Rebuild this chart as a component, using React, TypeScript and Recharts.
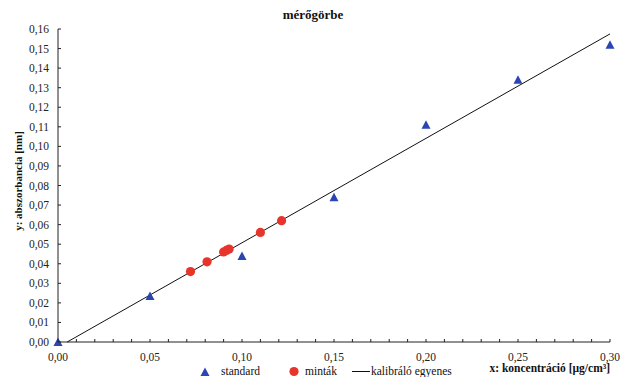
import React from 'react';
import { ScatterChart, Scatter, XAxis, YAxis, Customized } from 'recharts';

const standardX = [0, 0.05, 0.1, 0.15, 0.2, 0.25, 0.3];
const standardY = [0, 0.0235, 0.044, 0.074, 0.111, 0.134, 0.152];
const sampleX = [0.072, 0.081, 0.09, 0.0915, 0.093, 0.11, 0.1215];
const sampleY = [0.036, 0.041, 0.046, 0.0468, 0.0475, 0.056, 0.062];
const lineX = [0.005, 0.3];
const lineY = [0, 0.1575];
const xTicks = [0, 0.01, 0.02, 0.03, 0.04, 0.05, 0.06, 0.07, 0.08, 0.09, 0.1, 0.11, 0.12, 0.13, 0.14, 0.15, 0.16, 0.17, 0.18, 0.19, 0.2, 0.21, 0.22, 0.23, 0.24, 0.25, 0.26, 0.27, 0.28, 0.29, 0.3];
const yTicks = [0, 0.01, 0.02, 0.03, 0.04, 0.05, 0.06, 0.07, 0.08, 0.09, 0.1, 0.11, 0.12, 0.13, 0.14, 0.15, 0.16];
const titleText = 'mérőgörbe';
const xLabel = 'x: koncentráció [µg/cm³]';
const yLabel = 'y: abszorbancia [nm]';
const legendLabels = ['standard', 'minták', 'kalibráló egyenes'];

const standardData = standardX.map((x, i) => ({ x, y: standardY[i] }));
const sampleData = sampleX.map((x, i) => ({ x, y: sampleY[i] }));
const lineData = lineX.map((x, i) => ({ x, y: lineY[i] }));

const FONT = "'Liberation Serif', 'Times New Roman', serif";
const ff = { fontFamily: FONT };
const BLUE = '#2B45B2';
const RED = '#E8352B';
const fmt = (v: number) => v.toFixed(2).replace('.', ',');

const XTick = (props: any) => {
  const { x, y, payload } = props;
  const v = payload.value;
  const major = Math.round(v * 100) % 5 === 0;
  return (
    <g>
      <line x1={x} x2={x} y1={y} y2={y - 3} stroke="#222" strokeWidth={1} />
      {major && (
        <text x={x} y={y + 19} textAnchor="middle" style={ff} fontSize={11.5} fill="#222">
          {fmt(v)}
        </text>
      )}
    </g>
  );
};

const YTick = (props: any) => {
  const { x, y, payload } = props;
  return (
    <g>
      <line x1={x} x2={x + 3} y1={y} y2={y} stroke="#222" strokeWidth={1} />
      <text x={x - 9} y={y + 4} textAnchor="end" style={ff} fontSize={11.5} fill="#222">
        {fmt(payload.value)}
      </text>
    </g>
  );
};

const Triangle = (props: any) => {
  const { cx, cy } = props;
  return <polygon points={`${cx - 4.5},${cy + 4} ${cx + 4.5},${cy + 4} ${cx},${cy - 4.5}`} fill={BLUE} />;
};

const Dot = (props: any) => {
  const { cx, cy } = props;
  return <circle cx={cx} cy={cy} r={4.6} fill={RED} />;
};

const NoShape = () => <g />;

const Decorations = () => (
  <g style={ff} fill="#111">
    <text x={313} y={19} textAnchor="middle" fontWeight="bold" fontSize={13} style={ff}>{titleText}</text>
    <text x={0} y={0} transform="translate(22,181) rotate(-90)" textAnchor="middle" fontWeight="bold" fontSize={11} style={ff}>{yLabel}</text>
    <text x={610} y={372} textAnchor="end" fontWeight="bold" fontSize={11.5} style={ff}>{xLabel}</text>
    <polygon points="200.5,376 209.5,376 205,367.5" fill={BLUE} />
    <text x={221} y={375} fontSize={11.5} style={ff}>{legendLabels[0]}</text>
    <circle cx={294} cy={371.5} r={4.6} fill={RED} />
    <text x={305} y={375} fontSize={11.5} style={ff}>{legendLabels[1]}</text>
    <line x1={352} x2={370} y1={371.5} y2={371.5} stroke="#111" strokeWidth={1} />
    <text x={371} y={375} fontSize={11.5} style={ff}>{legendLabels[2]}</text>
  </g>
);

export default function App() {
  return (
    <div style={{ position: 'absolute', left: 0, top: 0, background: '#fff' }}>
      <ScatterChart width={621} height={377} margin={{ top: 29, right: 11, bottom: 15, left: 0 }}>
        <XAxis
          type="number"
          dataKey="x"
          domain={[0, 0.3]}
          ticks={xTicks}
          interval={0}
          tickSize={0}
          tickMargin={0}
          tick={<XTick />}
          tickLine={false}
          axisLine={{ stroke: '#222', strokeWidth: 1 }}
          height={20}
        />
        <YAxis
          type="number"
          dataKey="y"
          domain={[0, 0.16]}
          ticks={yTicks}
          interval={0}
          tickSize={0}
          tickMargin={0}
          tick={<YTick />}
          tickLine={false}
          axisLine={{ stroke: '#222', strokeWidth: 1 }}
          width={58}
        />
        <Scatter data={lineData} line={{ stroke: '#111', strokeWidth: 1 }} shape={<NoShape />} isAnimationActive={false} />
        <Scatter data={standardData} shape={<Triangle />} isAnimationActive={false} />
        <Scatter data={sampleData} shape={<Dot />} isAnimationActive={false} />
        <Customized component={Decorations} />
      </ScatterChart>
    </div>
  );
}
